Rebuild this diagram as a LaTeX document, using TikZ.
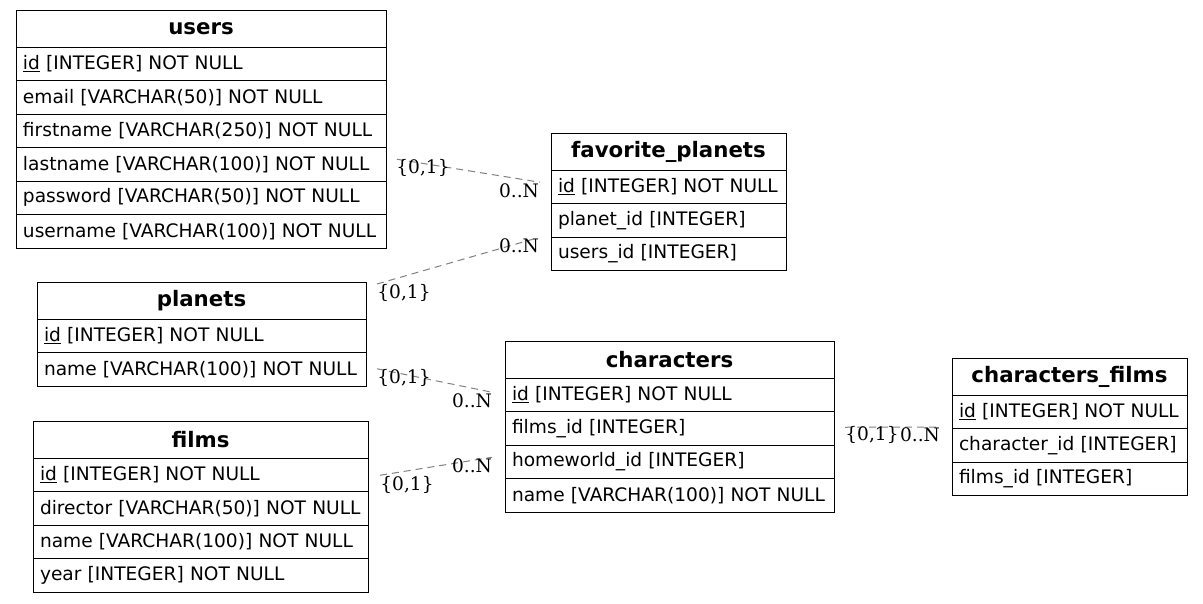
\documentclass[tikz,border=0pt]{standalone}
\usepackage{fontspec}
\setmainfont{DejaVu Sans}
\newfontfamily\crdfont{DejaVu Serif}
\usetikzlibrary{positioning}

\newcommand{\rowfont}{\fontsize{18.6}{22}\selectfont}
\newcommand{\headfont}{\fontsize{21.3}{25}\selectfont\bfseries}

\tikzset{
  tbl/.style={draw, line width=1pt, inner ysep=0pt, inner xsep=7pt, outer sep=0pt},
  tblhead/.style={tbl, text width=#1, align=center, minimum height=37pt, font=\headfont},
  fld/.style={tbl, text width=#1, align=left, minimum height=33.5pt, font=\rowfont,
    execute at begin node=\hbox\bgroup, execute at end node=\egroup},
  rel/.style={draw={rgb,255:red,128;green,128;blue,128}, line width=1pt, dash pattern=on 7pt off 5pt},
  crd/.style={inner sep=0pt, font=\crdfont\rowfont}
}

\begin{document}
\begin{tikzpicture}[x=1pt, y=-1pt]
\path[fill=white, use as bounding box] (0,0) rectangle (1203,603);

% users
\node[tblhead=356, anchor=north west] (users) at (16,10) {users};
\node[fld=356, below=0pt of users] (users-1) {\underline{id} [INTEGER] NOT NULL};
\node[fld=356, below=0pt of users-1] (users-2) {email [VARCHAR(50)] NOT NULL};
\node[fld=356, below=0pt of users-2] (users-3) {firstname [VARCHAR(250)] NOT NULL};
\node[fld=356, below=0pt of users-3] (users-4) {lastname [VARCHAR(100)] NOT NULL};
\node[fld=356, below=0pt of users-4] (users-5) {password [VARCHAR(50)] NOT NULL};
\node[fld=356, below=0pt of users-5] (users-6) {username [VARCHAR(100)] NOT NULL};

% favorite_planets
\node[tblhead=221, anchor=north west] (fav) at (551,133) {favorite\_planets};
\node[fld=221, below=0pt of fav] (fav-1) {\underline{id} [INTEGER] NOT NULL};
\node[fld=221, below=0pt of fav-1] (fav-2) {planet\_id [INTEGER]};
\node[fld=221, below=0pt of fav-2] (fav-3) {users\_id [INTEGER]};

% planets
\node[tblhead=315, anchor=north west] (planets) at (37,282) {planets};
\node[fld=315, below=0pt of planets] (planets-1) {\underline{id} [INTEGER] NOT NULL};
\node[fld=315, below=0pt of planets-1] (planets-2) {name [VARCHAR(100)] NOT NULL};

% characters
\node[tblhead=315, anchor=north west] (chars) at (505,341) {characters};
\node[fld=315, below=0pt of chars] (chars-1) {\underline{id} [INTEGER] NOT NULL};
\node[fld=315, below=0pt of chars-1] (chars-2) {films\_id [INTEGER]};
\node[fld=315, below=0pt of chars-2] (chars-3) {homeworld\_id [INTEGER]};
\node[fld=315, below=0pt of chars-3] (chars-4) {name [VARCHAR(100)] NOT NULL};

% characters_films
\node[tblhead=221, anchor=north west] (cf) at (952,358) {characters\_films};
\node[fld=221, below=0pt of cf] (cf-1) {\underline{id} [INTEGER] NOT NULL};
\node[fld=221, below=0pt of cf-1] (cf-2) {character\_id [INTEGER]};
\node[fld=221, below=0pt of cf-2] (cf-3) {films\_id [INTEGER]};

% films
\node[tblhead=321, anchor=north west] (films) at (33,421) {films};
\node[fld=321, below=0pt of films] (films-1) {\underline{id} [INTEGER] NOT NULL};
\node[fld=321, below=0pt of films-1] (films-2) {director [VARCHAR(50)] NOT NULL};
\node[fld=321, below=0pt of films-2] (films-3) {name [VARCHAR(100)] NOT NULL};
\node[fld=321, below=0pt of films-3] (films-4) {year [INTEGER] NOT NULL};

% relations
\draw[rel] ([shift={(11,-5)}]users-4.east) -- ([shift={(-11,-4.5)}]fav-1.west);
\node[crd] (r1a) at ([shift={(37,4)}]users-4.east) {\{0,1\}};
\node[crd] (r1b) at ([shift={(-32,3.5)}]fav-1.west) {0..N};

\draw[rel] ([shift={(11,2)}]planets.north east) -- ([shift={(-14,1)}]fav-2.south west);
\node[crd] (r2a) at ([shift={(38,11)}]planets.north east) {\{0,1\}};
\node[crd] (r2b) at ([shift={(-32,9)}]fav-2.south west) {0..N};

\draw[rel] ([shift={(11,-0.5)}]planets-2.east) -- ([shift={(-13,-2.5)}]chars-1.west);
\node[crd] (r3a) at ([shift={(38,8.5)}]planets-2.east) {\{0,1\}};
\node[crd] (r3b) at ([shift={(-33,5.5)}]chars-1.west) {0..N};

\draw[rel] ([shift={(12,0.5)}]films-1.east) -- ([shift={(-13,-4.5)}]chars-3.west);
\node[crd] (r4a) at ([shift={(39,10.5)}]films-1.east) {\{0,1\}};
\node[crd] (r4b) at ([shift={(-33,3.5)}]chars-3.west) {0..N};

\draw[rel] ([shift={(11,-1)}]chars-2.east) -- ([shift={(-14,-1.5)}]cf-1.south west);
\node[crd] (r5a) at ([shift={(38,7)}]chars-2.east) {\{0,1\}};
\node[crd] (r5b) at ([shift={(-32,6.5)}]cf-1.south west) {0..N};
\end{tikzpicture}
\end{document}
